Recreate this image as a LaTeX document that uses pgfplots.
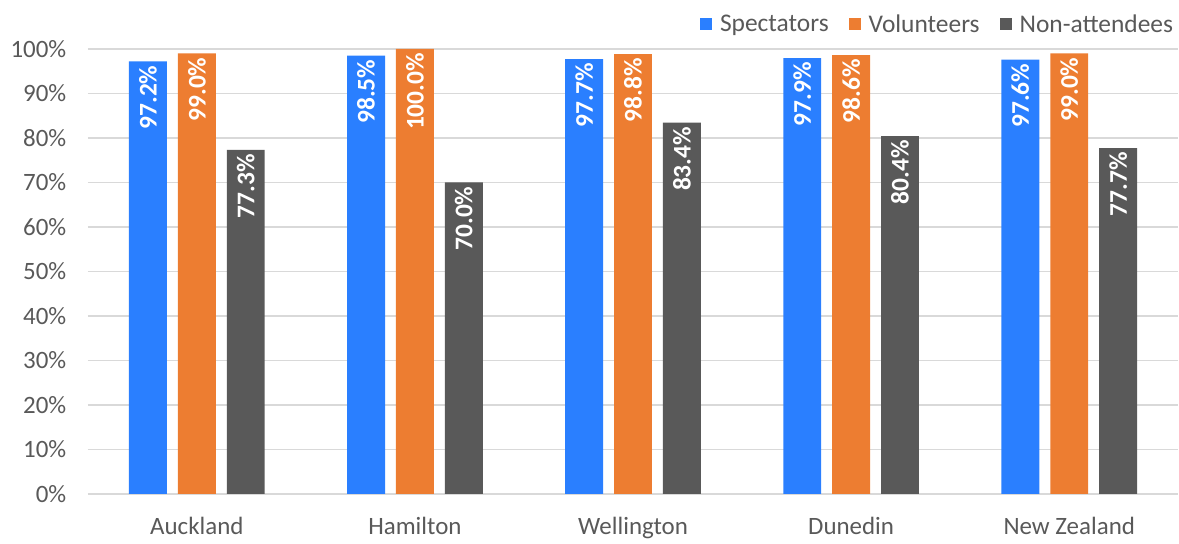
\documentclass[border=0pt]{standalone}
\usepackage{pgfplots}
\pgfplotsset{compat=1.18}
\usepackage{fontspec}
\setmainfont{Carlito}
\definecolor{cblue}{HTML}{2A7FFF}
\definecolor{corange}{HTML}{ED7D31}
\definecolor{cgray}{HTML}{595959}
\definecolor{ctext}{HTML}{595959}
\definecolor{cgrid}{HTML}{D9D9D9}
\begin{document}
\begin{tikzpicture}
\begin{axis}[
  at={(0,0)}, anchor=south west,
  scale only axis, width=1093pt, height=446pt,
  xmin=-0.5, xmax=4.5, ymin=0, ymax=100,
  ybar=11pt, bar width=38pt,
  xtick={0,1,2,3,4},
  xticklabels={Auckland,Hamilton,Wellington,Dunedin,New Zealand},
  ytick={0,10,...,100},
  yticklabel={\pgfmathprintnumber{\tick}\%},
  /pgf/number format/assume math mode=true,
  font=\fontsize{25pt}{29pt}\selectfont,
  tick label style={text=ctext, font=\fontsize{25pt}{29pt}\selectfont},
  yticklabel style={xshift=-18pt},
  xticklabel style={yshift=-20pt},
  major tick length=0pt,
  axis line style={draw=none},
  ymajorgrids, grid style={cgrid, line width=1.5pt},
  nodes near coords={\pgfmathprintnumber[fixed,fixed zerofill,precision=1]{\pgfplotspointmeta}\%},
  every node near coord/.append style={rotate=90, anchor=east, text=white, font=\fontsize{25.5pt}{29pt}\selectfont\bfseries, inner sep=4pt},
  legend columns=3,
  legend style={draw=none, fill=none, at={(1.0,1.0)}, anchor=south east, yshift=11pt, xshift=0pt, text=ctext, font=\fontsize{25.5pt}{29pt}\selectfont, /tikz/every even column/.append style={column sep=18pt}},
  legend image code/.code={\fill[#1] (0pt,-6pt) rectangle (12pt,6pt); \path (18pt,0pt);},
  clip=false,
]
\addplot[fill=cblue, draw=none] coordinates {(0,97.2) (1,98.5) (2,97.7) (3,97.9) (4,97.6)};
\addplot[fill=corange, draw=none] coordinates {(0,99.0) (1,100.0) (2,98.8) (3,98.6) (4,99.0)};
\addplot[fill=cgray, draw=none] coordinates {(0,77.3) (1,70.0) (2,83.4) (3,80.4) (4,77.7)};
\legend{Spectators,Volunteers,Non-attendees}
\end{axis}
\path[use as bounding box] (-88pt,-50pt) rectangle (1091pt,495pt);
\end{tikzpicture}
\end{document}
